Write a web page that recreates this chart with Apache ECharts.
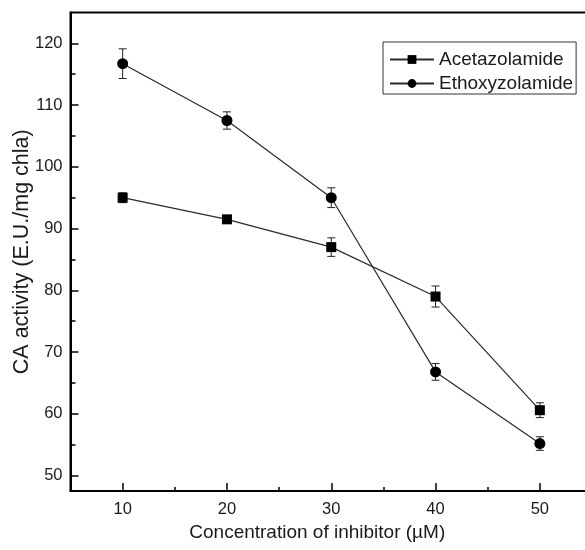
<!DOCTYPE html>
<html>
<head>
<meta charset="utf-8">
<script src="https://cdn.jsdelivr.net/npm/echarts@6/dist/echarts.min.js"></script>
<style>
  html, body { margin: 0; padding: 0; background: #fff; }
  #chart { width: 585px; height: 550px; }
</style>
</head>
<body>
<div id="chart"></div>
<script>
// Inhibitor concentrations (µM)
const concentrations = [10, 20, 30, 40, 50];

// CA activity (E.U./mg chla), mean and error per concentration
const acetazolamide = [95.0, 91.5, 87.0, 79.0, 60.6];
const acetazolamideErr = [0.8, 0.6, 1.5, 1.7, 1.2];
const ethoxyzolamide = [116.7, 107.5, 95.0, 66.8, 55.2];
const ethoxyzolamideErr = [2.4, 1.4, 1.6, 1.35, 1.1];

// Tick positions
const xMajorTicks = [10, 20, 30, 40, 50];
const xMinorTicks = [15, 25, 35, 45];
const yMajorTicks = [50, 60, 70, 80, 90, 100, 110, 120];
const yMinorTicks = [55, 65, 75, 85, 95, 105, 115];

const X_MIN = 5, X_MAX = 55;
const Y_MIN = 47.5, Y_MAX = 125;
const INK = '#1a1a1a';
const FONT = 'Liberation Sans, Arial, sans-serif';

const pairs = (xs, ys) => xs.map((x, i) => [x, ys[i]]);
const errRows = (xs, ys, es) => xs.map((x, i) => [x, ys[i] - es[i], ys[i] + es[i]]);

function errorBar(params, api) {
  const x = api.value(0);
  const lo = api.coord([x, api.value(1)]);
  const hi = api.coord([x, api.value(2)]);
  const cap = 4;
  const style = { stroke: '#222', lineWidth: 1, fill: null };
  return {
    type: 'group',
    children: [
      { type: 'line', shape: { x1: lo[0], y1: lo[1], x2: hi[0], y2: hi[1] }, style },
      { type: 'line', shape: { x1: lo[0] - cap, y1: lo[1], x2: lo[0] + cap, y2: lo[1] }, style },
      { type: 'line', shape: { x1: hi[0] - cap, y1: hi[1], x2: hi[0] + cap, y2: hi[1] }, style }
    ]
  };
}

const chart = echarts.init(document.getElementById('chart'), null, { renderer: 'canvas' });

const baseX = { type: 'value', min: X_MIN, max: X_MAX, splitLine: { show: false } };
const baseY = { type: 'value', min: Y_MIN, max: Y_MAX, splitLine: { show: false } };

chart.setOption({
  animation: false,
  backgroundColor: '#fff',
  grid: {
    left: 70.5, right: -7, top: 12.4, bottom: 58.9,
    containLabel: false,
    outerBoundsMode: 'none',
    show: true, borderColor: '#000', borderWidth: 2, backgroundColor: 'transparent'
  },
  legend: {
    left: 383, top: 42,
    orient: 'vertical',
    itemWidth: 44, itemHeight: 11, itemGap: 5,
    padding: [8, 3, 1, 6],
    borderColor: '#333', borderWidth: 1,
    textStyle: { fontFamily: FONT, fontSize: 19, color: INK, padding: [0, 0, 0, 0] },
    data: ['Acetazolamide', 'Ethoxyzolamide']
  },
  xAxis: [
    Object.assign({}, baseX, {
      position: 'bottom',
      name: 'Concentration of inhibitor (µM)',
      nameLocation: 'middle',
      nameGap: 32,
      nameMoveOverlap: false,
      nameTextStyle: { fontFamily: FONT, fontSize: 19, color: INK, padding: [0, 28, 0, 0] },
      axisLine: { show: true, lineStyle: { color: '#000', width: 2 } },
      axisTick: { show: true, inside: true, length: 8, lineStyle: { color: '#000', width: 1.5 }, customValues: xMajorTicks },
      axisLabel: { fontFamily: FONT, fontSize: 16.5, color: INK, margin: 10, customValues: xMajorTicks }
    }),
    Object.assign({}, baseX, {
      position: 'bottom',
      axisLine: { show: false },
      axisTick: { show: true, inside: true, length: 4, lineStyle: { color: '#000', width: 1.5 }, customValues: xMinorTicks },
      axisLabel: { show: false }
    })
  ],
  yAxis: [
    Object.assign({}, baseY, {
      position: 'left',
      name: 'CA activity (E.U./mg chla)',
      nameLocation: 'middle',
      nameGap: 37,
      nameMoveOverlap: false,
      nameTextStyle: { fontFamily: FONT, fontSize: 21.5, color: INK },
      axisLine: { show: true, lineStyle: { color: '#000', width: 2 } },
      axisTick: { show: true, inside: true, length: 8, lineStyle: { color: '#000', width: 1.5 }, customValues: yMajorTicks },
      axisLabel: { fontFamily: FONT, fontSize: 16.5, color: INK, margin: 8, customValues: yMajorTicks }
    }),
    Object.assign({}, baseY, {
      position: 'left',
      axisLine: { show: false },
      axisTick: { show: true, inside: true, length: 5, lineStyle: { color: '#000', width: 1.5 }, customValues: yMinorTicks },
      axisLabel: { show: false }
    })
  ],
  series: [
    {
      type: 'custom', name: 'Acetazolamide error', renderItem: errorBar,
      xAxisIndex: 0, yAxisIndex: 0, z: 1, silent: true,
      data: errRows(concentrations, acetazolamide, acetazolamideErr)
    },
    {
      type: 'custom', name: 'Ethoxyzolamide error', renderItem: errorBar,
      xAxisIndex: 0, yAxisIndex: 0, z: 1, silent: true,
      data: errRows(concentrations, ethoxyzolamide, ethoxyzolamideErr)
    },
    {
      type: 'line', name: 'Acetazolamide',
      xAxisIndex: 0, yAxisIndex: 0, z: 3,
      symbol: 'rect', symbolSize: 10,
      itemStyle: { color: '#000' },
      lineStyle: { color: '#2a2a2a', width: 1.2 },
      data: pairs(concentrations, acetazolamide)
    },
    {
      type: 'line', name: 'Ethoxyzolamide',
      xAxisIndex: 0, yAxisIndex: 0, z: 3,
      symbol: 'circle', symbolSize: 11,
      itemStyle: { color: '#000' },
      lineStyle: { color: '#2a2a2a', width: 1.2 },
      data: pairs(concentrations, ethoxyzolamide)
    }
  ]
});
</script>
</body>
</html>
